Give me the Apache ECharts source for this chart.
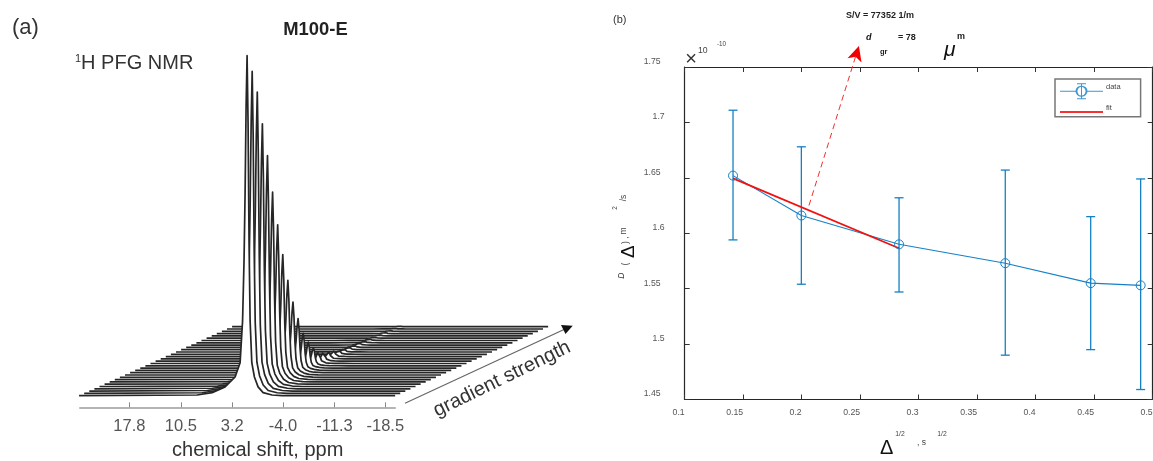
<!DOCTYPE html>
<html>
<head>
<meta charset="utf-8">
<style>html,body{margin:0;padding:0;background:#fff}#c{width:1153px;height:461px}</style>
<script src="https://cdn.jsdelivr.net/npm/echarts@6/dist/echarts.min.js"></script>
</head>
<body>
<div id="c"></div>
<script>
// ---- panel (a): stacked 1H PFG NMR spectra ----
var shiftTicks = [17.8, 10.5, 3.2, -4.0, -11.3, -18.5];
var peakHeights = [340, 322, 299, 265, 231, 192, 157, 125, 97, 73, 54, 37, 26, 18, 13, 9.5, 7, 5.5, 4, 3, 2.5, 2, 2, 1.5, 1.5, 1, 1, 1, 0.5, 0.5, 0.5];
var peakPpm = 1.1;
var ppmStepPerTrace = 0.7234;
var heightStepPerTrace = 2.3;
var profilePpm = [23.83, 7.09, 4.96, 3.12, 1.70, 0.99, 0.64, 0.43, 0.28, 0.14, 0, -0.14, -0.28, -0.43, -0.67, -1.04, -1.56, -2.27, -3.55, -4.96, -21];
var profileFrac = [0, 0.002, 0.009, 0.026, 0.055, 0.097, 0.22, 0.40, 0.60, 0.85, 1, 0.80, 0.45, 0.22, 0.097, 0.055, 0.026, 0.009, 0.002, 0, 0];

// ---- panel (b): D(delta) vs delta^(1/2) ----
var deltaRoot = [0.1413, 0.1997, 0.2832, 0.374, 0.447, 0.4897];
var dValues = [1.652, 1.616, 1.590, 1.573, 1.555, 1.553];
var dHigh = [1.711, 1.678, 1.632, 1.657, 1.615, 1.649];
var dLow = [1.594, 1.554, 1.547, 1.490, 1.495, 1.459];
var fitX = [0.1413, 0.2832];
var fitY = [1.6495, 1.5865];
var arrowX = [0.2062, 0.2489];
var arrowY = [1.625, 1.769];

var BLUE = '#1580c6', RED = '#f01010', FONT = '"Liberation Sans", Arial, sans-serif';

var series = [];
// nearer traces carry a higher z so that their white fill hides the traces behind
for (var i = peakHeights.length - 1; i >= 0; i--) {
  var pts = [];
  for (var k = 0; k < profilePpm.length; k++) {
    pts.push([peakPpm + profilePpm[k] - i * ppmStepPerTrace,
              i * heightStepPerTrace + peakHeights[i] * profileFrac[k]]);
  }
  series.push({
    type: 'line', name: 'trace' + i, xAxisIndex: 0, yAxisIndex: 0, data: pts, z: 40 - i,
    showSymbol: false, symbol: 'none', clip: false, silent: true, animation: false,
    lineStyle: { color: '#262626', width: 1.7, join: 'round' },
    areaStyle: { color: '#fff', opacity: 1, origin: i * heightStepPerTrace }
  });
}

function zip(a, b) { return a.map(function (v, j) { return [v, b[j]]; }); }

series.push({
  type: 'custom', name: 'error', xAxisIndex: 1, yAxisIndex: 1, clip: false, animation: false,
  data: deltaRoot.map(function (x, j) { return [x, dLow[j], dHigh[j]]; }),
  encode: { x: 0, y: [1, 2] },
  renderItem: function (params, api) {
    var lo = api.coord([api.value(0), api.value(1)]);
    var hi = api.coord([api.value(0), api.value(2)]);
    var c = 4.5, st = { stroke: BLUE, lineWidth: 1.3, fill: 'none' };
    return { type: 'group', children: [
      { type: 'line', shape: { x1: lo[0], y1: lo[1], x2: hi[0], y2: hi[1] }, style: st },
      { type: 'line', shape: { x1: lo[0] - c, y1: lo[1], x2: lo[0] + c, y2: lo[1] }, style: st },
      { type: 'line', shape: { x1: hi[0] - c, y1: hi[1], x2: hi[0] + c, y2: hi[1] }, style: st }
    ] };
  }
});
series.push({
  type: 'line', name: 'data', xAxisIndex: 1, yAxisIndex: 1, clip: false, animation: false,
  data: zip(deltaRoot, dValues), symbol: 'circle', symbolSize: 9, showSymbol: true,
  lineStyle: { color: BLUE, width: 1.1 },
  itemStyle: { color: 'rgba(255,255,255,0)', borderColor: BLUE, borderWidth: 1 }
});
series.push({
  type: 'line', name: 'fit', xAxisIndex: 1, yAxisIndex: 1, clip: false, animation: false,
  data: zip(fitX, fitY), symbol: 'none', lineStyle: { color: RED, width: 1.7 },
  itemStyle: { color: RED }
});
series.push({
  type: 'line', name: 'arrow', xAxisIndex: 1, yAxisIndex: 1, clip: false, animation: false, silent: true,
  data: [
    { value: [arrowX[0], arrowY[0]], symbol: 'none' },
    { value: [arrowX[1], arrowY[1]], symbol: 'arrow', symbolSize: [11, 15], symbolRotate: -17 }
  ],
  showSymbol: true, showAllSymbol: true,
  lineStyle: { color: '#f03030', width: 1, type: [6, 4] },
  itemStyle: { color: '#f00000' }
});

function txt(x, y, s, size, opt) {
  opt = opt || {};
  return {
    type: 'text', x: x, y: y, rotation: (opt.rot || 0) * Math.PI / 180, silent: true, z: 60,
    style: {
      text: s, font: (opt.style || '') + ' ' + size + 'px ' + FONT,
      fill: opt.color || '#333', align: opt.align || 'center', verticalAlign: 'middle', rich: opt.rich
    }
  };
}
var graphics = [
  txt(12, 28, '(a)', 22, { align: 'left' }),
  txt(315.5, 30, 'M100-E', 18.4, { style: 'bold', color: '#222' }),
  txt(75, 63, '{s|1}{n|H PFG NMR}', 20, { align: 'left', rich: {
    s: { fontSize: 11, fontFamily: FONT, fill: '#333', verticalAlign: 'top', lineHeight: 20, padding: [0, 0, 8, 0] },
    n: { fontSize: 20, fontFamily: FONT, fill: '#333', lineHeight: 20 } } }),
  txt(257.7, 450.5, 'chemical shift, ppm', 20),
  txt(502, 379, 'gradient strength', 20, { rot: 26 }),
  { type: 'line', silent: true, z: 60, shape: { x1: 405, y1: 403.3, x2: 564, y2: 329.5 }, style: { stroke: '#666', lineWidth: 1.2 } },
  { type: 'polygon', silent: true, z: 60, shape: { points: [[572.7, 325.7], [561, 325], [565.5, 334]] }, style: { fill: '#111' } },
  txt(613, 20.3, '(b)', 11, { align: 'left' }),
  txt(880, 15.7, 'S/V = 77352 1/m', 9, { style: 'bold', color: '#222' }),
  txt(866, 37.7, 'd', 9, { align: 'left', style: 'italic bold', color: '#111' }),
  txt(880, 51.7, 'gr', 7.5, { align: 'left', style: 'bold', color: '#222' }),
  txt(898, 38, '= 78', 9, { align: 'left', style: 'bold', color: '#222' }),
  txt(944, 50, '\u03bc', 21, { align: 'left', style: 'italic', color: '#111' }),
  txt(957, 37, 'm', 9, { align: 'left', style: 'bold', color: '#222' }),
  txt(691, 59, '\u00d7', 20, { color: '#333' }),
  txt(698, 51, '10', 8.7, { align: 'left', color: '#444' }),
  txt(717, 44.7, '-10', 6.3, { align: 'left', color: '#444' }),
  // rotated y-axis name, piece by piece
  txt(621.5, 275.7, 'D', 8.5, { rot: 90, style: 'italic', color: '#333' }),
  txt(626, 264, '(', 8.5, { rot: 90, color: '#444' }),
  txt(629, 251.7, '\u0394', 19, { rot: 90, color: '#111' }),
  txt(626, 242.5, ')', 8.5, { rot: 90, color: '#444' }),
  txt(626, 237.5, ',', 8.5, { rot: 90, color: '#444' }),
  txt(624, 231, 'm', 8.5, { rot: 90, color: '#444' }),
  txt(615, 208, '2', 6.5, { rot: 90, color: '#444' }),
  txt(624, 198, '/s', 8.5, { rot: 90, color: '#444' }),
  // x-axis name, piece by piece
  txt(886.7, 448, '\u0394', 20, { color: '#111' }),
  txt(900, 434, '1/2', 6.8, { color: '#444' }),
  txt(917, 443, ', s', 8.5, { align: 'left', color: '#444' }),
  txt(942, 434, '1/2', 6.8, { color: '#444' })
];

var boxAxis = { lineStyle: { color: '#262626', width: 1.2 } };
var boxTick = { show: true, inside: true, length: 5, lineStyle: { color: '#333', width: 1 } };
// 43 x 16 glyph: horizontal line, error bar with caps, open circle
var legendIcon = 'path://M0 7.5H17V8.5H0Z M26 7.5H43V8.5H26Z M17 0H26V1H22V2.5A5.5 5.5 0 0 1 22 13.5V15H26V16H17V15H21V13.5A5.5 5.5 0 0 1 21 2.5V1H17Z M21 3.6A4.5 4.5 0 0 0 21 12.4V3.6Z M22 3.6V12.4A4.5 4.5 0 0 0 22 3.6Z';
var fitIcon = 'path://M0 7H43V9H0Z';

var option = {
  backgroundColor: '#fff',
  animation: false,
  textStyle: { fontFamily: FONT },
  grid: [
    { left: 80, width: 480, top: 56, height: 351.3, outerBoundsMode: 'none' },
    { left: 684.7, width: 468, top: 67, height: 332.5, outerBoundsMode: 'none' },
    { left: 80, width: 315, top: 56, height: 351.3, outerBoundsMode: 'none' }
  ],
  xAxis: [
    { type: 'value', gridIndex: 0, inverse: true, min: -43.285, max: 24.8, show: false, splitLine: { show: false } },
    { type: 'value', gridIndex: 1, min: 0.1, max: 0.5, interval: 0.05, splitLine: { show: false },
      axisLine: Object.assign({ show: true, onZero: false }, boxAxis), axisTick: boxTick,
      axisLabel: { show: true, fontSize: 8.7, color: '#555', margin: 9, fontFamily: FONT, align: 'right', showMinLabel: true, showMaxLabel: true,
        hideOverlap: false, formatter: function (v) { return String(+v.toFixed(2)); } } },
    { type: 'value', gridIndex: 1, position: 'top', min: 0.1, max: 0.5, interval: 0.05, splitLine: { show: false },
      axisLine: Object.assign({ show: true, onZero: false }, boxAxis), axisTick: boxTick, axisLabel: { show: false } },
    { type: 'value', gridIndex: 2, inverse: true, min: -19.88, max: 24.8, splitLine: { show: false },
      axisLine: { show: true, onZero: false, lineStyle: { color: '#b4b4b4', width: 2 } },
      axisTick: { show: true, inside: true, length: 5, lineStyle: { color: '#888', width: 1 }, customValues: shiftTicks },
      axisLabel: { show: true, customValues: shiftTicks, fontSize: 16.5, color: '#555', margin: 11, fontFamily: FONT,
        formatter: function (v) { return v === -4 ? '-4.0' : String(v); } } }
  ],
  yAxis: [
    { type: 'value', gridIndex: 0, min: -11.6, max: 339.7, show: false, splitLine: { show: false } },
    { type: 'value', gridIndex: 1, min: 1.45, max: 1.75, interval: 0.05, splitLine: { show: false },
      axisLine: Object.assign({ show: true, onZero: false }, boxAxis), axisTick: boxTick,
      axisLabel: { show: true, fontSize: 8.7, color: '#555', margin: 20, fontFamily: FONT, padding: [0, 0, 11, 0],
        showMinLabel: true, showMaxLabel: true, hideOverlap: false,
        formatter: function (v) { var s = String(+v.toFixed(2)); return s.length > 3 ? '{w|' + s + '}' : '{n|' + s + '}'; },
        rich: { w: { fontSize: 8.7, color: '#555', padding: [0, 4, 0, 0] }, n: { fontSize: 8.7, color: '#555' } } } },
    { type: 'value', gridIndex: 1, position: 'right', min: 1.45, max: 1.75, interval: 0.05, splitLine: { show: false },
      axisLine: Object.assign({ show: true, onZero: false }, boxAxis), axisTick: boxTick, axisLabel: { show: false } },
    { type: 'value', gridIndex: 2, min: -11.6, max: 339.7, show: false, splitLine: { show: false } }
  ],
  legend: {
    show: true, left: 1055, top: 79, orient: 'vertical', selectedMode: false,
    backgroundColor: '#fff', borderColor: '#777', borderWidth: 1.5, borderRadius: 0,
    padding: [3.7, 20, 3.7, 5], itemWidth: 43, itemHeight: 16, itemGap: 4.3,
    formatter: '{t|{name}}',
    textStyle: { fontSize: 7.5, color: '#444', fontFamily: FONT,
      rich: { t: { fontSize: 7.5, color: '#444', fontFamily: FONT, padding: [0, 0, 9, -2] } } },
    data: [
      { name: 'data', icon: legendIcon, itemStyle: { color: '#3f97d2', borderWidth: 0 }, lineStyle: { width: 0, opacity: 0 } },
      { name: 'fit', icon: fitIcon, itemStyle: { color: '#f83030', borderWidth: 0 }, lineStyle: { width: 0, opacity: 0 } }
    ]
  },
  series: series,
  graphic: { elements: graphics }
};
var chart = echarts.init(document.getElementById('c'), null, { renderer: 'canvas' });
chart.setOption(option);
</script>
</body>
</html>
